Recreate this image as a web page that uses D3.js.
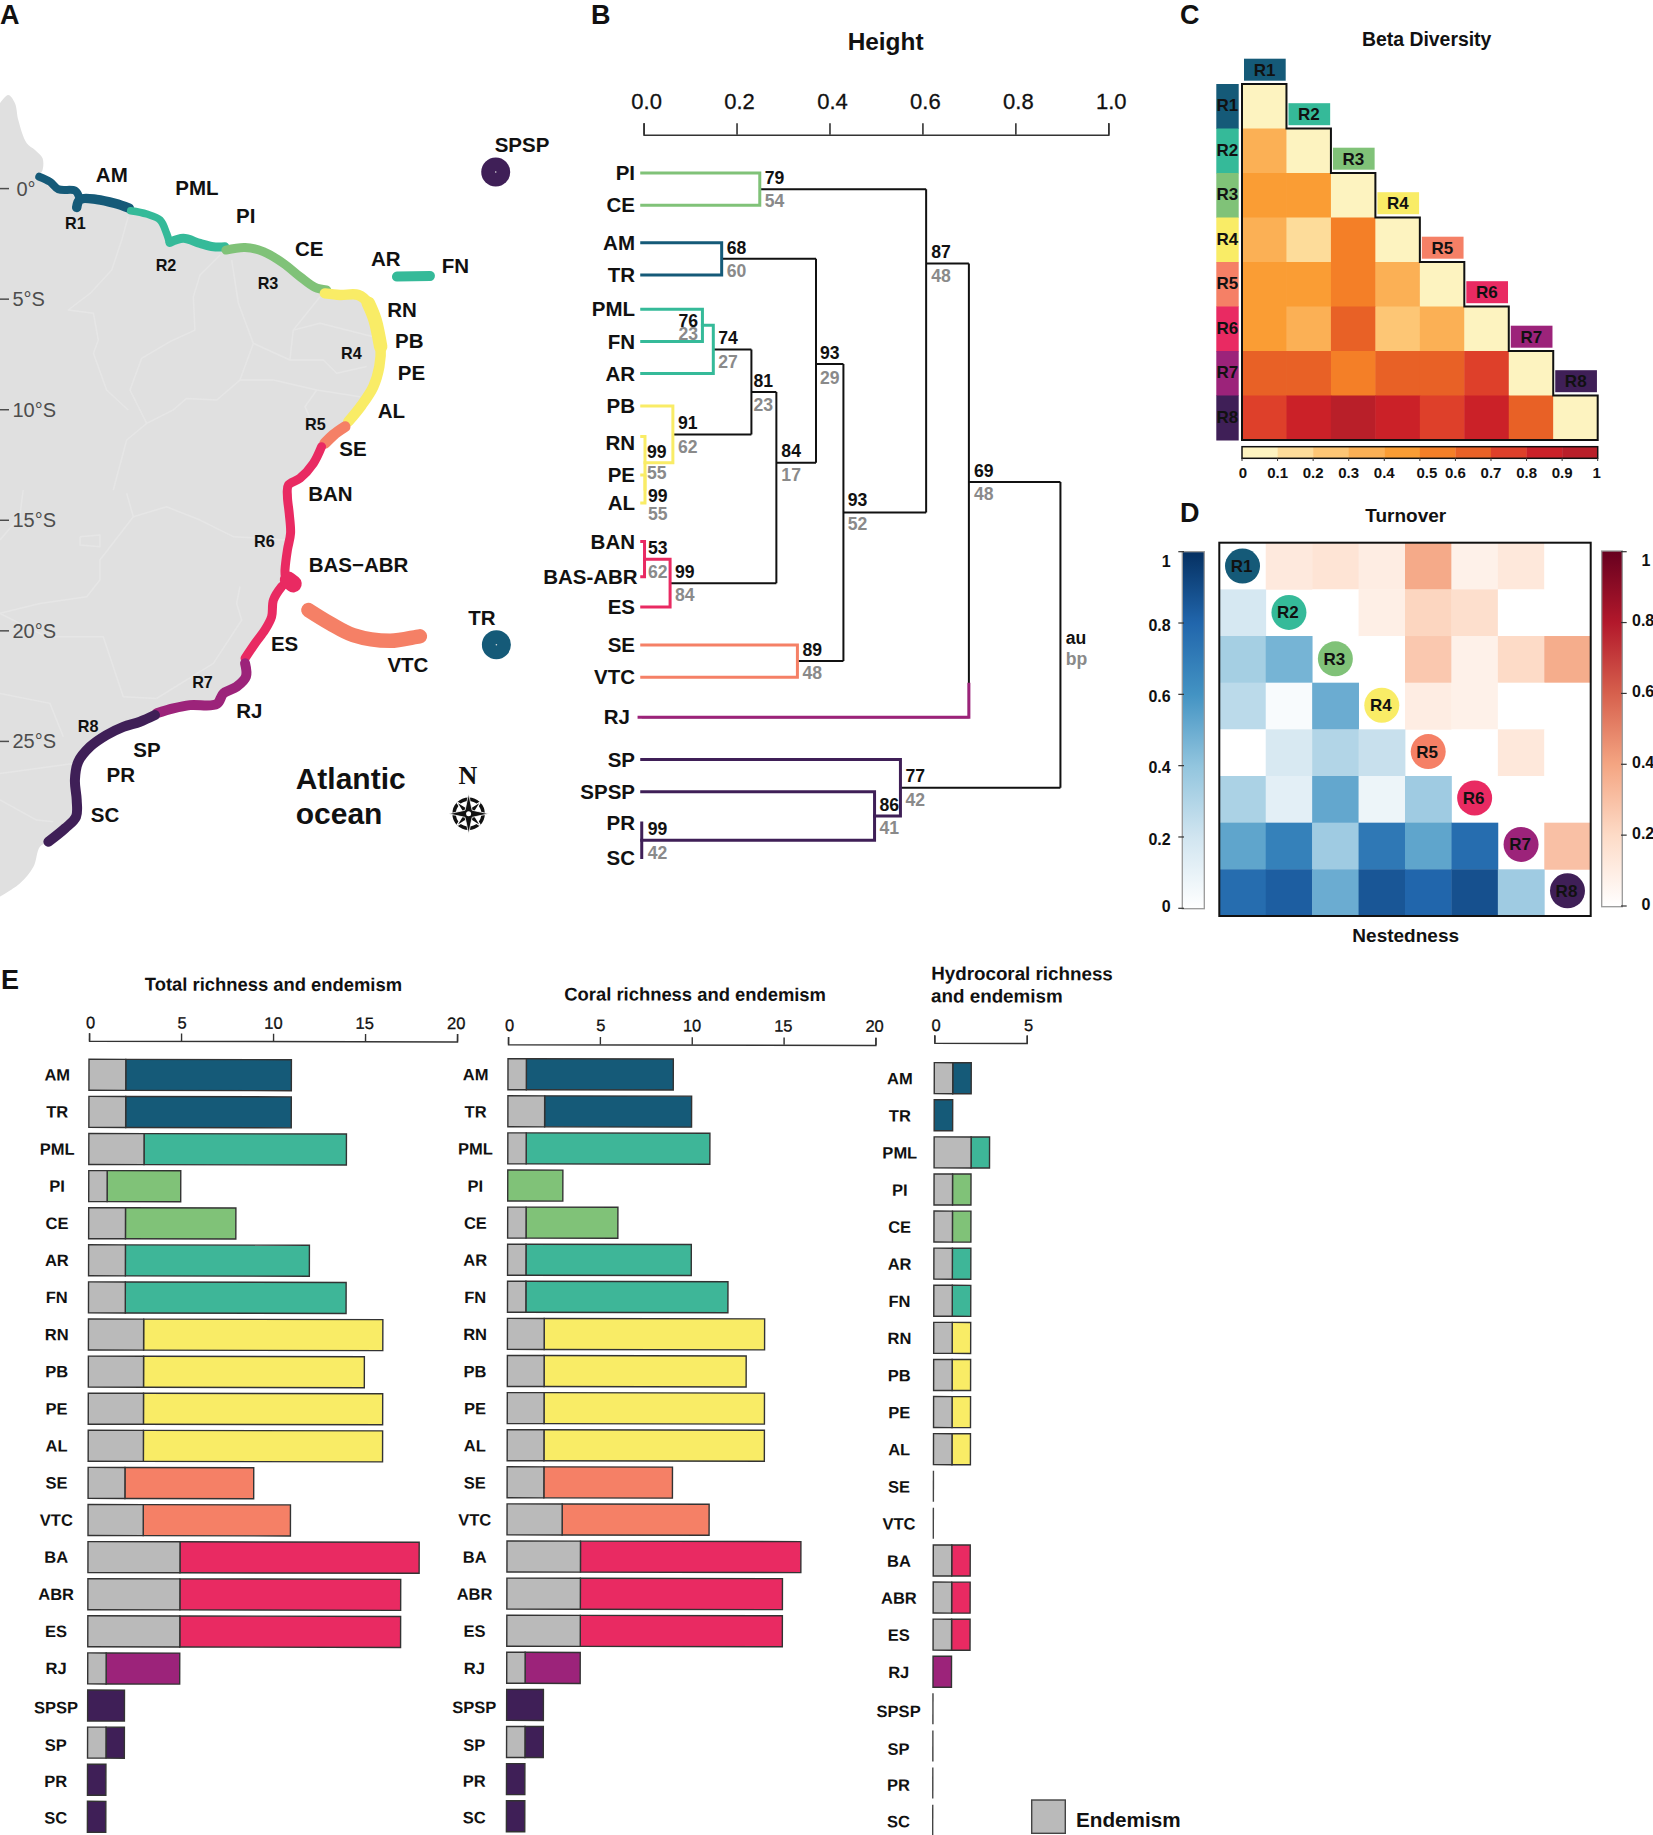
<!DOCTYPE html>
<html><head><meta charset="utf-8">
<script src="https://cdn.jsdelivr.net/npm/d3@7/dist/d3.min.js"></script>
<style>
html,body{margin:0;padding:0;background:#fff}
svg{display:block}
text{font-family:"Liberation Sans",Arial,sans-serif;fill:#111}
.b{font-weight:bold}
.m{stroke:#111;stroke-width:.3px}
</style></head><body>
<svg id="c" width="1653" height="1835"></svg>
<script>
// ---------- shared data ----------
const regions=["R1","R2","R3","R4","R5","R6","R7","R8"];
const regionColors=["#155a78","#35ba99","#80c278","#f9ec66","#f58066","#e92a62","#9c237a","#3f1f57"];
const color=d3.scaleOrdinal(regions,regionColors);

// ---------- panel A: map (lon, lat) ----------
const coastR1a=[[-50.26,.54],[-49.78,.31],[-49.4,-.03],[-48.66,-.09],[-48.49,-.33]];
const coastR1b=[[-48.58,-.85],[-48.43,-.49],[-47.68,-.49],[-46.86,-.67],[-46.22,-.89]];
const coastR2a=[[-46.16,-1],[-45.44,-1.15],[-44.84,-1.42],[-44.55,-2.02],[-44.43,-2.4]];
const coastR2b=[[-44.4,-2.44],[-43.8,-2.25],[-43.05,-2.48],[-42.45,-2.63],[-41.93,-2.63]];
const coastR3=[[-41.89,-2.78],[-41.03,-2.66],[-40.21,-2.85],[-39.31,-3.38],[-38.57,-3.98],[-37.89,-4.47],[-37.37,-4.59]];
const coastR4=[[-37.45,-4.74],[-36.77,-4.81],[-35.95,-4.81],[-35.5,-5.19],[-35.2,-5.94],[-34.95,-7.15],[-35.01,-8.05],[-35.28,-8.96],[-35.8,-9.79],[-36.4,-10.54]];
const coastR4mid=[[-35.5,-5.19],[-35.2,-5.94],[-34.95,-7.15]];
const coastR5=[[-36.55,-10.77],[-37.07,-11.14],[-37.45,-11.52]];
const coastR6=[[-37.6,-11.67],[-37.97,-12.43],[-38.57,-13.1],[-39.09,-13.41],[-39.13,-13.93],[-39.05,-14.69],[-38.99,-15.59],[-39.13,-16.34],[-39.24,-17.25],[-39.24,-17.85],[-39.39,-18],[-39.76,-18.61],[-39.84,-19.36],[-40.14,-19.96],[-40.58,-20.57],[-41.03,-21.24]];
const abrolhos=[[-39.09,-17.7],[-38.87,-17.88]];
const coastR7=[[-41.03,-21.47],[-40.99,-22.07],[-41.41,-22.53],[-42,-22.83],[-42.3,-23.31],[-43.5,-23.36],[-44.25,-23.51],[-44.99,-23.73]];
const coastR8=[[-45.07,-23.81],[-45.74,-24.11],[-46.49,-24.34],[-47.24,-24.71],[-47.98,-25.24],[-48.51,-25.92],[-48.66,-26.75],[-48.58,-27.65],[-48.61,-28.41],[-49.1,-28.93],[-49.85,-29.54]];
const landNorth=[[-52.02,3.86],[-51.65,4.23],[-51.35,3.86],[-51.2,3.1],[-50.82,2.05],[-50.45,1.75],[-50.11,1.37],[-50.11,.84]];
const landSouth=[[-50.23,-29.76],[-50.52,-30.67],[-51.12,-31.42],[-52.02,-32.03]];
const stateBorders=[
 [[-46.27,-1.27],[-46.56,-2.32],[-47.01,-3.68],[-47.98,-4.74],[-48.96,-5.49],[-47.83,-5.64],[-47.61,-6.85],[-47.83,-7.45],[-47.24,-9.11],[-46.27,-10.01]],
 [[-42.15,-3],[-43.05,-3.91],[-43.35,-4.89],[-43.28,-6.4],[-44.4,-6.92],[-45.67,-7.68],[-46.19,-9.11],[-45.44,-10.62],[-44.25,-10.01],[-43.65,-9.49],[-42.3,-9.56],[-41.26,-8.66],[-40.66,-7],[-41.33,-5.19],[-41.63,-3.23]],
 [[-40.66,-7],[-39.02,-7.75],[-38.87,-6.4],[-37.67,-4.89]],
 [[-38.87,-6.4],[-37.67,-6.09],[-35.28,-6.7]],
 [[-41.26,-8.66],[-39.76,-8.66],[-37.82,-9.11],[-35.88,-9.41]],
 [[-39.02,-7.75],[-37.52,-7.75],[-36.92,-8.35],[-35.58,-8.05]],
 [[-37.89,-10.92],[-38.34,-9.86],[-37.82,-9.11]],
 [[-45.44,-10.62],[-46.34,-11.37],[-46.94,-13.63]],
 [[-46.34,-13.78],[-46.04,-14.84],[-44.55,-14.39],[-43.05,-14.99],[-41.56,-15.74],[-39.24,-15.89]],
 [[-48.43,-15.74],[-47.54,-15.67],[-47.54,-16.2],[-48.43,-16.12],[-48.43,-15.74]],
 [[-46.04,-14.84],[-47.54,-16.8],[-47.54,-17.7],[-48.13,-18.46],[-50.23,-18.76],[-52.02,-19.21]],
 [[-52.02,-19.21],[-49.93,-20.27],[-47.39,-20.27],[-46.49,-22.98],[-45,-23.06]],
 [[-41.26,-18],[-41.41,-18.76],[-41.18,-19.51],[-42.45,-21.47],[-43.65,-22.22],[-45,-23.06]],
 [[-52.02,-22.83],[-49.78,-23.28],[-49.18,-24.79]],
 [[-52.02,-26.45],[-48.73,-26]],
 [[-52.02,-27.65],[-50.38,-28.56],[-49.63,-28.63]],
 [[-50.98,-13.63],[-51.13,-14.84],[-52.02,-15.89]]
];
const islandArFn=[[-34.22,-3.98],[-32.74,-3.95]];
const islandVtc=[[-38.19,-19.06],[-37.22,-19.66],[-36.18,-20.19],[-34.53,-20.45],[-33.34,-20.27],[-33.19,-20.25]];
const islandPoints=[{name:"SPSP",lon:-29.79,lat:.75,region:"R8"},{name:"TR",lon:-29.76,lat:-20.63,region:"R1"}];
const latTicks=[0,-5,-10,-15,-20,-25];
const mapLabels=[["AM",111.8,175],["PML",197,187.4],["PI",245.7,215.9],["CE",309.3,249],["AR",385.7,258.6],["FN",455.4,266.3],["RN",402,309.6],["PB",409.3,341],["PE",411.4,372.5],["AL",391.4,411],["SE",352.9,449],["BAN",330.4,494],["BAS\u2212ABR",358.6,564.6],["ES",284.6,644.1],["VTC",407.9,664.9],["TR",482,618],["RJ",249.3,710.6],["SP",147,749.7],["PR",120.7,775.2],["SC",105,814.4],["SPSP",522,145.3]];
const mapRegionLabels=[["R1",75.4,223.6],["R2",166,265],["R3",268,283],["R4",351.4,353.5],["R5",315.4,424.7],["R6",264.3,541.5],["R7",202.5,682],["R8",88.2,726.6]];

// ---------- panel B: dendrogram ----------
const leafNames=["PI","CE","AM","TR","PML","FN","AR","PB","RN","PE","AL","BAN","BAS-ABR","ES","SE","VTC","RJ","SP","SPSP","PR","SC"];
const leafRegions=["R3","R3","R1","R1","R2","R2","R2","R4","R4","R4","R4","R6","R6","R6","R5","R5","R7","R8","R8","R8","R8"];
const leafRows=[0,1,2.158,3.158,4.22,5.214,6.21,7.214,8.16,9.35,10.22,11.41,12.5,13.44,14.61,15.61,16.85,18.16,19.16,20.12,21.19];
// id, left child, right child, height, au, bp, cluster region, row override
const merges=[
 ["n79","PI","CE",.25,79,54,"R3"],
 ["n68","AM","TR",.168,68,60,"R1"],
 ["n76","PML","FN",.1266,76,23,"R2"],
 ["n74","n76","AR",.15,74,27,"R2"],
 ["nPA","PE","AL",.003,99,55,"R4"],
 ["nRN","RN","nPA",.003,99,55,"R4"],
 ["n91","PB","nRN",.063,91,62,"R4"],
 ["n81","n74","n91",.232,81,23,null],
 ["n53","BAN","BAS-ABR",.002,53,62,"R6"],
 ["n99","n53","ES",.057,99,84,"R6"],
 ["n84","n81","n99",.2857,84,17,null,8.97],
 ["n93a","n68","n84",.371,93,29,null,5.91],
 ["n89","SE","VTC",.331,89,48,"R5"],
 ["n93b","n93a","n89",.43,93,52,null],
 ["n87","n79","n93b",.608,87,48,null,2.8],
 ["n69","n87","RJ",.70,69,48,null,9.57],
 ["nPS","PR","SC",-.004,99,42,"R8"],
 ["n86","SPSP","nPS",.497,86,41,"R8"],
 ["n77","SP","n86",.5527,77,42,"R8"],
 ["root","n69","n77",.897,null,null,null]
];
const dendTicks=[0,.2,.4,.6,.8,1];

// ---------- panel C ----------
const betaRows=[[.02],[.35,.02],[.45,.45,.02],[.35,.15,.55,.02],[.45,.45,.55,.35,.02],[.45,.35,.65,.25,.35,.02],[.65,.65,.55,.65,.65,.75,.02],[.75,.85,.95,.85,.75,.85,.65,.02]];
const betaBreaks=[.1,.2,.3,.4,.5,.6,.7,.8,.9];
const betaColors=["#fdf3c0","#fddc9a","#fdc675","#fbb055","#fa9d34","#f47f27","#e86126","#de402a","#cb2128","#b91f29"];
const betaTicks=[0,.1,.2,.3,.4,.5,.6,.7,.8,.9,1];

// ---------- panel D ----------
const turnoverRows=[[.12,.15,.1,.38,.08,.13,0],[0,.09,.22,.18,0,0],[0,.27,.08,.2,.37],[.1,.08,0,0],[0,.13,0],[0,0],[.3]];
const nestednessRows=[[.18],[.34,.47],[.27,.03,.5],[0,.17,.3,.23],[.32,.12,.52,.08,.36],[.53,.68,.36,.72,.53,.77],[.77,.83,.5,.86,.8,.88,.36]];
const reds=["#ffffff","#fddbc7","#f4a582","#d6604d","#b2182b","#67001f"];
const blues=["#ffffff","#d1e5f0","#92c5de","#4393c3","#2166ac","#053061"];
const legendTicks=[0,.2,.4,.6,.8,1];

// ---------- panel E ----------
const categories=["AM","TR","PML","PI","CE","AR","FN","RN","PB","PE","AL","SE","VTC","BA","ABR","ES","RJ","SPSP","SP","PR","SC"];
const categoryRegions=["R1","R1","R2","R3","R3","R2","R2","R4","R4","R4","R4","R5","R5","R6","R6","R6","R7","R8","R8","R8","R8"];
const totalRichness=[11,11,14,5,8,12,14,16,15,16,16,9,11,18,17,17,5,2,2,1,1];
const totalEndemism=[2,2,3,1,2,2,2,3,3,3,3,2,3,5,5,5,1,0,1,0,0];
const coralRichness=[9,10,11,3,6,10,12,14,13,14,14,9,11,16,15,15,4,2,2,1,1];
const coralEndemism=[1,2,1,0,1,1,1,2,2,2,2,2,3,4,4,4,1,0,1,0,0];
const hydroRichness=[2,1,3,2,2,2,2,2,2,2,2,0,0,2,2,2,1,0,0,0,0];
const hydroEndemism=[1,0,2,1,1,1,1,1,1,1,1,0,0,1,1,1,0,0,0,0,0];
const totalTicks=[0,5,10,15,20];
const hydroTicks=[0,5];

const svg=d3.select("#c");
function T(g,s,x,y,size,cls,anchor){
  return g.append("text").text(s).attr("x",x).attr("y",y).attr("dy",".35em")
   .attr("font-size",size).attr("class",cls||"").attr("text-anchor",anchor||"middle");
}
// panel letters
[["A",0,15],["B",591,15],["C",1180,15],["D",1180,512.7],["E",1,980]].forEach(d=>T(svg,d[0],d[1],d[2],27,"b","start"));

// ========== A ==========
(function(){
 const g=svg.append("g");
 const lonS=d3.scaleLinear().domain([-34.8,-30]).range([384,384+4.8*22.3]);
 const latS=d3.scaleLinear().domain([0,-25]).range([188.6,741.4]);
 const line=d3.line().x(d=>lonS(d[0])).y(d=>latS(d[1]));
 const smooth=d3.line().x(d=>lonS(d[0])).y(d=>latS(d[1])).curve(d3.curveCatmullRom);
 const land=[].concat(landNorth,coastR1a,coastR1b,coastR2a,coastR2b,coastR3,coastR4,coastR5,coastR6,coastR7,coastR8,landSouth);
 g.append("path").attr("d",smooth(land)+"Z").attr("fill","#e0e0e0");
 g.selectAll("path.state").data(stateBorders).join("path").attr("class","state").attr("d",line)
  .attr("fill","none").attr("stroke","#e6e6e6").attr("stroke-width",1.5).attr("stroke-linejoin","round");
 const segs=[[coastR1a,"R1",8],[coastR1b,"R1",9.5],[coastR2a,"R2",7.5],[coastR2b,"R2",9],[coastR3,"R3",9],[coastR4,"R4",10.5],[coastR4mid,"R4",13.5],[coastR5,"R5",11],[coastR6,"R6",9],[abrolhos,"R6",17],[coastR7,"R7",10],[coastR8,"R8",10],[islandArFn,"R2",10],[islandVtc,"R5",14.5]];
 g.selectAll("path.seg").data(segs).join("path").attr("class","seg").attr("d",d=>smooth(d[0]))
  .attr("fill","none").attr("stroke",d=>color(d[1])).attr("stroke-width",d=>d[2])
  .attr("stroke-linecap","round").attr("stroke-linejoin","round");
 g.selectAll("circle").data(islandPoints).join("circle").attr("cx",d=>lonS(d.lon)).attr("cy",d=>latS(d.lat)).attr("r",14.5).attr("fill",d=>color(d.region));
 g.selectAll("circle.dot").data(islandPoints).join("circle").attr("class","dot").attr("cx",d=>lonS(d.lon)).attr("cy",d=>latS(d.lat)).attr("r",.8).attr("fill","#ddd");
 latTicks.forEach(l=>{
  g.append("line").attr("x1",0).attr("x2",9).attr("y1",latS(l)).attr("y2",latS(l)).attr("stroke","#4d4d4d").attr("stroke-width",1.5);
  T(g,l===0?"0°":(-l)+"°S",l===0?16.4:12.5,latS(l),20,"","start").style("fill","#4d4d4d");
 });
 mapLabels.forEach(d=>T(g,d[0],d[1],d[2],20.5,"b"));
 mapRegionLabels.forEach(d=>T(g,d[0],d[1],d[2],16.2,"b"));
 T(g,"Atlantic",295.7,778,30,"b","start");
 T(g,"ocean",295.7,813.8,30,"b","start");
 T(g,"N",467.9,775.2,26,"b").style("font-family","Liberation Serif");
 const cp=g.append("g").attr("transform","translate(468.6,813.8)");
 cp.append("circle").attr("r",14.5).attr("fill","none").attr("stroke","#111").attr("stroke-width",3.5);
 const star=(r,ri,rot)=>d3.lineRadial().angle((d,i)=>rot+i*Math.PI/4).radius(d=>d).curve(d3.curveLinearClosed)(d3.range(8).map(i=>i%2?ri:r));
 cp.append("path").attr("d",star(16,4,Math.PI/4)).attr("fill","#fff").attr("stroke","#fff").attr("stroke-width",2);
 cp.append("path").attr("d",star(15,4,Math.PI/4)).attr("fill","#111");
 cp.append("path").attr("d",star(20,5,0)).attr("fill","#111").attr("stroke","#fff").attr("stroke-width",.8);
 cp.append("circle").attr("r",2.5).attr("fill","#fff");
})();

// ========== B ==========
(function(){
 const g=svg.append("g");
 const x=d3.scaleLinear().domain([0,1]).range([643.6,1108.3]);
 const y=d3.scaleLinear().domain([0,1]).range([173,205.3]);
 const ax=g.append("g").attr("transform","translate(0,134.7)").call(d3.axisTop(x).tickValues(dendTicks).tickFormat(d3.format(".1f")).tickSize(11.4).tickPadding(14));
 ax.selectAll("path,line").attr("stroke","#333").attr("stroke-width",1.6);
 ax.selectAll("text").attr("font-size",22).attr("font-family","Liberation Sans").attr("dx",2.5).attr("class","m");
 T(g,"Height",885.6,41.7,24.4,"b");
 const nodes=new Map();
 leafNames.forEach((n,i)=>nodes.set(n,{h:-.004,row:leafRows[i],color:color(leafRegions[i]),leaf:true,name:n}));
 const col=[],blk=[];
 merges.forEach(m=>{
  const a=nodes.get(m[1]),b=nodes.get(m[2]);
  const row=m[7]!==undefined?m[7]:(a.row+b.row)/2;
  const c=m[6]?color(m[6]):"#111";
  const n={h:m[3],row:row,color:c,id:m[0],au:m[4],bp:m[5]};
  nodes.set(m[0],n);
  const p=d3.path();
  p.moveTo(x(n.h),y(a.row));p.lineTo(x(n.h),y(b.row));
  const pa=d3.path();
  [a,b].forEach(k=>{
    pa.moveTo(x(k.h),y(k.row));pa.lineTo(x(n.h),y(k.row));
  });
  (m[6]?col:blk).push({d:pa+""+p,c:c});
 });
 const sw=d=>d.c==="#111"?2:3;
 g.selectAll("path.blk").data(blk).join("path").attr("class","blk").attr("d",d=>d.d).attr("fill","none").attr("stroke",d=>d.c).attr("stroke-width",sw);
 g.selectAll("path.col").data(col).join("path").attr("class","col").attr("d",d=>d.d).attr("fill","none").attr("stroke",d=>d.c).attr("stroke-width",sw).attr("stroke-linecap","square");
 // RJ accent: last stretch of the join is drawn in the region colour
 const rj=nodes.get("RJ"), n69=nodes.get("n69");
 g.append("path").attr("d",`M${x(n69.h)},${y(rj.row-1.07)}V${y(rj.row)}H${x(-.013)}`).attr("fill","none").attr("stroke",rj.color).attr("stroke-width",3);
 // leaf labels
 leafNames.forEach(n=>{const l=nodes.get(n);
   T(g,n,n==="BAS-ABR"?637.7:n==="RJ"?630:635,y(l.row)+(n==="RN"?6:0),20.5,"b","end");
 });
 // support values (au black, bp grey)
 const off={n76:[-24,-4.4,8.6],n81:[2,-11.3,12.7],nPA:[3,6.7,24.3],nRN:[2,-11,10],n53:[3.5,-11,12.7],nPS:[6,-11.7,12.3],n93a:[4,-10.7,13.7],n93b:[4.4,-12.7,11.6]};
 merges.forEach(m=>{ if(m[4]===null)return;
   const n=nodes.get(m[0]),o=off[m[0]]||[5,-11.5,12];
   T(g,m[4],x(n.h)+o[0],y(n.row)+o[1],17.6,"b","start");
   T(g,m[5],x(n.h)+o[0],y(n.row)+o[2],17.6,"b","start").style("fill","#8a8a8a");
 });
 T(g,"au",1065.7,637.7,17.6,"b","start");
 T(g,"bp",1065.7,659,17.6,"b","start").style("fill","#8a8a8a");
})();

// ========== C ==========
(function(){
 const g=svg.append("g");
 const x=d3.scaleBand().domain(regions).range([1242,1597.7]);
 const y=d3.scaleBand().domain(regions).range([84,440]);
 const cs=d3.scaleThreshold().domain(betaBreaks).range(betaColors);
 T(g,"Beta Diversity",1426.7,39.3,19.4,"b");
 const cells=betaRows.flatMap((r,i)=>r.map((v,j)=>({r:regions[i],c:regions[j],v})));
 g.selectAll("rect.cell").data(cells).join("rect").attr("class","cell").attr("x",d=>x(d.c)).attr("y",d=>y(d.r))
  .attr("width",x.bandwidth()+.5).attr("height",y.bandwidth()+.5).attr("fill",d=>cs(d.v));
 // stair outline
 const p=d3.path();p.moveTo(x("R1"),y("R1"));
 regions.forEach(r=>{p.lineTo(x(r)+x.bandwidth(),y(r));p.lineTo(x(r)+x.bandwidth(),y(r)+y.bandwidth());});
 p.lineTo(x("R1"),y("R8")+y.bandwidth());p.closePath();
 g.append("path").attr("d",p).attr("fill","none").attr("stroke","#111").attr("stroke-width",2);
 regions.forEach((r,i)=>{
  g.append("rect").attr("x",x(r)+2).attr("width",41.7).attr("y",y(r)-25.3).attr("height",22).attr("fill",color(r));
  T(g,r,x(r)+22.5,y(r)-14,17,"b");
  g.append("rect").attr("x",1216.3).attr("width",22.4).attr("y",y(r)).attr("height",y.bandwidth()+.5).attr("fill",color(r));
  T(g,r,1227.3,y(r)+y.bandwidth()/2-1,17,"b");
 });
 // colour key
 const k=d3.scaleLinear().domain([0,1]).range([1242,1597.7]);
 g.selectAll("rect.key").data(betaColors).join("rect").attr("class","key").attr("x",(d,i)=>k(i/10)).attr("width",k(.1)-k(0)+.3).attr("y",446.7).attr("height",11.6).attr("fill",d=>d);
 g.append("rect").attr("x",1242).attr("width",355.7).attr("y",446.7).attr("height",11.6).attr("fill","none").attr("stroke","#111").attr("stroke-width",1.5);
 betaTicks.forEach(t=>{
  g.append("line").attr("x1",k(t)).attr("x2",k(t)).attr("y1",458).attr("y2",461).attr("stroke","#333").attr("stroke-width",1);
  T(g,t,k(t)+(t===.5?7:t===0?1:t===1?-1:0),472.7,15,"b");
 });
})();

// ========== D ==========
(function(){
 const g=svg.append("g");
 const x=d3.scaleBand().domain(regions).range([1219.3,1590.7]);
 const y=d3.scaleBand().domain(regions).range([542.7,916]);
 const st=d3.range(6).map(i=>i/5);
 const red=d3.scaleLinear().domain(st).range(reds);
 const blue=d3.scaleLinear().domain(st).range(blues);
 T(g,"Turnover",1405.7,515,19,"b");
 T(g,"Nestedness",1405.7,935,19,"b");
 const cells=[];
 turnoverRows.forEach((r,i)=>r.forEach((v,j)=>cells.push({r:regions[i],c:regions[i+j+1],f:red(v)})));
 nestednessRows.forEach((r,i)=>r.forEach((v,j)=>cells.push({r:regions[i+1],c:regions[j],f:blue(v)})));
 g.selectAll("rect.cell").data(cells).join("rect").attr("class","cell").attr("x",d=>x(d.c)).attr("y",d=>y(d.r))
  .attr("width",x.bandwidth()+.4).attr("height",y.bandwidth()+.4).attr("fill",d=>d.f);
 g.append("rect").attr("x",1219.3).attr("y",542.7).attr("width",371.4).attr("height",373.3).attr("fill","none").attr("stroke","#111").attr("stroke-width",2);
 regions.forEach((r,i)=>{
  const cy=y(r)+y.bandwidth()/2-i*.27;
  g.append("circle").attr("cx",x(r)+x.bandwidth()/2).attr("cy",cy).attr("r",17.5).attr("fill",color(r));
  T(g,r,x(r)+x.bandwidth()/2-1,cy,17,"b");
 });
 const defs=svg.append("defs");
 [["gb",blues],["gr",reds]].forEach(a=>{
  const lg=defs.append("linearGradient").attr("id",a[0]).attr("x1",0).attr("x2",0).attr("y1",1).attr("y2",0);
  a[1].forEach((c,i)=>lg.append("stop").attr("offset",i/5).attr("stop-color",c));
 });
 // left key (nestedness)
 const ly=d3.scaleLinear().domain([0,1]).range([908.3,551.7]);
 g.append("rect").attr("x",1182.3).attr("y",551.7).attr("width",22).attr("height",357).attr("fill","url(#gb)").attr("stroke","#999").attr("stroke-width",1.3);
 legendTicks.forEach(t=>{
  g.append("line").attr("x1",1178.3).attr("x2",1184).attr("y1",ly(t)).attr("y2",ly(t)).attr("stroke","#333").attr("stroke-width",1.2);
  T(g,t,1170.7,ly(t)+(t===1?10:t===0?-1.6:2),16,"b","end");
 });
 // right key (turnover)
 const ry=d3.scaleLinear().domain([0,1]).range([906,551.7]);
 g.append("rect").attr("x",1601.7).attr("y",551).attr("width",20.6).attr("height",355.7).attr("fill","url(#gr)").attr("stroke","#999").attr("stroke-width",1.3);
 legendTicks.forEach(t=>{
  g.append("line").attr("x1",1621).attr("x2",1626.7).attr("y1",ry(t)).attr("y2",ry(t)).attr("stroke","#333").attr("stroke-width",1.2);
  T(g,t,t===1||t===0?1646:1632,ry(t)+(t===1?9:t===0?-1.7:-2),16,"b",t===1||t===0?"middle":"start");
 });
})();

// ========== E ==========
(function(){
 const root=svg.append("g").attr("transform","rotate(0.12,88,1060)");
 const labelNudge={SPSP:2,SP:2.5,PR:1.5,SC:1};
 function panel(rich,end,ticks,x0,x1,top,axisY,pad,labelX,labelDy){
  const g=root.append("g");
  const dMax=ticks[ticks.length-1];
  const x=d3.scaleLinear().domain([0,dMax]).range([x0,x1]);
  const y=d3.scaleBand().domain(categories).range([top,top+773]).paddingInner(.1644);
  const ax=g.append("g").attr("transform",`translate(0,${axisY})`).call(d3.axisTop(x).tickValues(ticks).tickFormat(d3.format("d")).tickSize(7.4).tickPadding(pad));
  ax.selectAll("path,line").attr("stroke","#333").attr("stroke-width",1.4);
  ax.selectAll("text").attr("font-size",16.5).attr("font-family","Liberation Sans").attr("class","m")
    .attr("dx",d=>dMax===5?1.3:1.1-d/20*2.5);
  const rows=categories.map((c,i)=>({c,i,rich:rich[i],end:end[i],reg:categoryRegions[i]}));
  const nz=rows.filter(d=>d.rich>0);
  g.selectAll("rect.full").data(nz).join("rect").attr("class","full").attr("x",d=>x(d.end)).attr("width",d=>x(d.rich)-x(d.end))
   .attr("y",d=>y(d.c)).attr("height",y.bandwidth()).attr("fill",d=>color(d.reg)==="#35ba99"?"#3eb698":color(d.reg)).attr("stroke","#333").attr("stroke-width",1.4);
  g.selectAll("rect.end").data(nz.filter(d=>d.end>0)).join("rect").attr("class","end").attr("x",x(0)).attr("width",d=>x(d.end)-x(0))
   .attr("y",d=>y(d.c)).attr("height",y.bandwidth()).attr("fill","#bababa").attr("stroke","#333").attr("stroke-width",1.4);
  g.selectAll("line.zero").data(rows.filter(d=>d.rich===0)).join("line").attr("class","zero").attr("x1",x(0)).attr("x2",x(0))
   .attr("y1",d=>y(d.c)).attr("y2",d=>y(d.c)+y.bandwidth()).attr("stroke","#444").attr("stroke-width",1.4);
  rows.forEach(d=>T(g,d.c,labelX,y(d.c)+y.bandwidth()/2+labelDy+(labelNudge[d.c]||0),16.5,"b"));
 }
 panel(totalRichness,totalEndemism,totalTicks,89,457,1059.3,1040.7,5,57.3,0);
 panel(coralRichness,coralEndemism,totalTicks,508,875.4,1057.8,1043.4,6,475.7,0.5);
 panel(hydroRichness,hydroEndemism,hydroTicks,934.3,1026.7,1060.9,1041,4.5,900,0.5);
 T(root,"Total richness and endemism",273.3,984,18.4,"b");
 T(root,"Coral richness and endemism",695,993,18.4,"b");
 T(root,"Hydrocoral richness",931,971.5,18.8,"b","start");
 T(root,"and endemism",931,994,18.8,"b","start");
 svg.append("rect").attr("x",1031.7).attr("y",1800).attr("width",33.6).attr("height",33.3).attr("fill","#bababa").attr("stroke","#444").attr("stroke-width",1.4);
 T(svg,"Endemism",1076,1819.3,20.7,"b","start");
})();
</script></body></html>
